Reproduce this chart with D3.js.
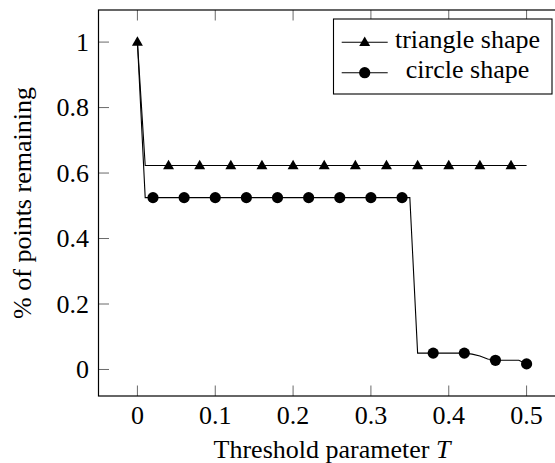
<!DOCTYPE html>
<html><head><meta charset="utf-8">
<script src="https://cdn.jsdelivr.net/npm/d3@7"></script>
<style>html,body{margin:0}</style></head>
<body>
<svg id="s" width="555" height="463"></svg>
<script>
// ---- data ----
const thresholds = [0.00, 0.01, 0.02, 0.03, 0.04, 0.05, 0.06, 0.07, 0.08, 0.09,
                    0.10, 0.11, 0.12, 0.13, 0.14, 0.15, 0.16, 0.17, 0.18, 0.19,
                    0.20, 0.21, 0.22, 0.23, 0.24, 0.25, 0.26, 0.27, 0.28, 0.29,
                    0.30, 0.31, 0.32, 0.33, 0.34, 0.35, 0.36, 0.37, 0.38, 0.39,
                    0.40, 0.41, 0.42, 0.43, 0.44, 0.45, 0.46, 0.47, 0.48, 0.49, 0.50];
const triangleValues = [1.000, 0.623, 0.623, 0.623, 0.623, 0.623, 0.623, 0.623, 0.623, 0.623,
                        0.623, 0.623, 0.623, 0.623, 0.623, 0.623, 0.623, 0.623, 0.623, 0.623,
                        0.623, 0.623, 0.623, 0.623, 0.623, 0.623, 0.623, 0.623, 0.623, 0.623,
                        0.623, 0.623, 0.623, 0.623, 0.623, 0.623, 0.623, 0.623, 0.623, 0.623,
                        0.623, 0.623, 0.623, 0.623, 0.623, 0.623, 0.623, 0.623, 0.623, 0.623, 0.623];
const circleValues = [1.000, 0.525, 0.525, 0.525, 0.525, 0.525, 0.525, 0.525, 0.525, 0.525,
                      0.525, 0.525, 0.525, 0.525, 0.525, 0.525, 0.525, 0.525, 0.525, 0.525,
                      0.525, 0.525, 0.525, 0.525, 0.525, 0.525, 0.525, 0.525, 0.525, 0.525,
                      0.525, 0.525, 0.525, 0.525, 0.525, 0.525, 0.050, 0.050, 0.050, 0.050,
                      0.050, 0.050, 0.050, 0.047, 0.041, 0.032, 0.028, 0.028, 0.028, 0.028, 0.017];
const xTicks = [0, 0.1, 0.2, 0.3, 0.4, 0.5];
const xTickLabels = ["0", "0.1", "0.2", "0.3", "0.4", "0.5"];
const yTicks = [0, 0.2, 0.4, 0.6, 0.8, 1];
const yTickLabels = ["0", "0.2", "0.4", "0.6", "0.8", "1"];
const seriesNames = ["triangle shape", "circle shape"];
const xLabel = "Threshold parameter ";
const xLabelVar = "T";
const yLabel = "% of points remaining";

// ---- layout ----
const svg = d3.select("#s");
const L = 98.5, R = 565.5, T = 10, B = 396;
const x = d3.scaleLinear().domain([-0.05, 0.55]).range([L, R]);
const y = d3.scaleLinear().domain([-0.081, 1.098]).range([B, T]);
const tickLen = 10.5;
const fontSize = 26;
const txt = sel => sel.attr("font-size", fontSize).style("font-family", '"Liberation Serif"');

svg.append("defs").append("clipPath").attr("id", "plotclip")
  .append("rect").attr("x", L).attr("y", T).attr("width", R - L).attr("height", B - T);

// inward tick marks on all four sides, positioned by the scales
const tk = svg.append("g").attr("stroke", "#6a6a6a").attr("stroke-width", 1);
tk.selectAll("line.xb").data(xTicks).join("line").attr("class", "xb")
  .attr("x1", d => x(d)).attr("x2", d => x(d)).attr("y1", B).attr("y2", B - tickLen);
tk.selectAll("line.xt").data(xTicks).join("line").attr("class", "xt")
  .attr("x1", d => x(d)).attr("x2", d => x(d)).attr("y1", T).attr("y2", T + tickLen);
tk.selectAll("line.yl").data(yTicks).join("line").attr("class", "yl")
  .attr("y1", d => y(d)).attr("y2", d => y(d)).attr("x1", L).attr("x2", L + tickLen);
tk.selectAll("line.yr").data(yTicks).join("line").attr("class", "yr")
  .attr("y1", d => y(d)).attr("y2", d => y(d)).attr("x1", R).attr("x2", R - tickLen);

xTicks.forEach((d, i) => {
  svg.append("text").attr("x", x(d)).attr("y", 424).attr("text-anchor", "middle").call(txt)
    .text(xTickLabels[i]);
});
yTicks.forEach((d, i) => {
  svg.append("text").attr("x", 89).attr("y", y(d) + 8.7).attr("text-anchor", "end").call(txt)
    .text(yTickLabels[i]);
});

const xl = svg.append("text").attr("x", (L + R) / 2).attr("y", 458)
  .attr("text-anchor", "middle").call(txt);
xl.append("tspan").text(xLabel);
xl.append("tspan").style("font-style", "italic").text(xLabelVar);

svg.append("text")
  .attr("transform", `translate(30.5,${(T + B) / 2}) rotate(-90)`)
  .attr("text-anchor", "middle").call(txt)
  .text(yLabel);

const plot = svg.append("g").attr("clip-path", "url(#plotclip)");
const line = d3.line().x(d => x(d[0])).y(d => y(d[1]));
const triData = thresholds.map((t, i) => [t, triangleValues[i]]);
const cirData = thresholds.map((t, i) => [t, circleValues[i]]);

plot.append("path").datum(triData).attr("d", line)
  .attr("fill", "none").attr("stroke", "#000").attr("stroke-width", 1.1);
plot.append("path").datum(cirData).attr("d", line)
  .attr("fill", "none").attr("stroke", "#000").attr("stroke-width", 1.1);

const triSym = d3.symbol().type(d3.symbolTriangle).size(52);
const cirR = 5.6;

plot.append("g").selectAll("path").data(triData.filter((d, i) => i % 4 === 0)).join("path")
  .attr("transform", d => `translate(${x(d[0])},${y(d[1]) + 0.5})`)
  .attr("d", triSym()).attr("fill", "#000");
plot.append("g").selectAll("circle").data(cirData.filter((d, i) => i % 4 === 2)).join("circle")
  .attr("cx", d => x(d[0])).attr("cy", d => y(d[1])).attr("r", cirR).attr("fill", "#000");

svg.append("rect").attr("x", L).attr("y", T).attr("width", R - L).attr("height", B - T)
  .attr("fill", "none").attr("stroke", "#000").attr("stroke-width", 1.2);

const lg = svg.append("g");
lg.append("rect").attr("x", 333.5).attr("y", 19).attr("width", 218.5).attr("height", 75)
  .attr("fill", "#fff").attr("stroke", "#000").attr("stroke-width", 1.1);
const rows = [42.3, 72.7];
seriesNames.forEach((name, i) => {
  const ry = rows[i];
  lg.append("line").attr("x1", 341.7).attr("x2", 387.7).attr("y1", ry).attr("y2", ry)
    .attr("stroke", "#000").attr("stroke-width", 1.1);
  if (i === 0) {
    lg.append("path").attr("transform", `translate(364.7,${ry + 0.5})`).attr("d", triSym()).attr("fill", "#000");
  } else {
    lg.append("circle").attr("cx", 364.7).attr("cy", ry).attr("r", cirR).attr("fill", "#000");
  }
  lg.append("text").attr("x", 467.5).attr("y", ry + 5.5)
    .attr("text-anchor", "middle").call(txt).text(name);
});
</script>
</body>
</html>
